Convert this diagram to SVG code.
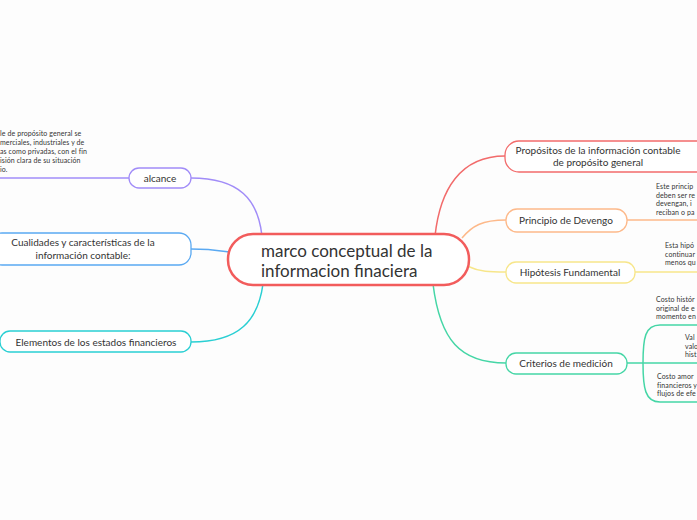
<svg xmlns="http://www.w3.org/2000/svg" width="697" height="520" viewBox="0 0 697 520">
<style>
.bg{fill:#fdfdfd}
.n{fill:#fff;stroke-width:1.3}
.c{fill:none;stroke-width:1.5}
.t{font-family:Lato,"Open Sans",sans-serif;font-size:10px;fill:#333;text-anchor:middle}
.s{font-family:Lato,"Open Sans",sans-serif;font-size:7px;fill:#333;letter-spacing:0.1px}
.main{font-family:Lato,"Open Sans",sans-serif;font-size:17px;fill:#333}
</style>
<rect class="bg" width="697" height="520"/>
<g id="connectors">
<path class="c" stroke="#A18CF8" d="M191,178 C240,178 258,200 262,236"/>
<path class="c" stroke="#A18CF8" d="M0,178 L129,178"/>
<path class="c" stroke="#5AA9F2" d="M191,249 C210,249 215,250 229,252"/>
<path class="c" stroke="#2ACFD3" d="M191,342 C240,342 258,320 263,284"/>
<path class="c" stroke="#F26B6B" d="M435,236 C440,190 460,156 505,156"/>
<path class="c" stroke="#FDB98A" d="M462,238 C472,226 482,220 506,220"/>
<path class="c" stroke="#FDB98A" d="M627,220 L697,220"/>
<path class="c" stroke="#F7E68A" d="M467,266 C480,272 490,272 506,272"/>
<path class="c" stroke="#F7E68A" d="M635,272 L697,272"/>
<path class="c" stroke="#45D6A6" d="M433,284 C440,340 460,363 506,363"/>
<path class="c" stroke="#45D6A6" d="M627,363 L697,363"/>
<path class="c" stroke="#45D6A6" d="M643,363 C643,338 645,325 660,325 L697,325"/>
<path class="c" stroke="#45D6A6" d="M643,363 C643,388 645,402 660,402 L697,402"/>
</g>
<g id="central">
<rect x="228" y="234" width="241" height="51" rx="25" fill="#fff" stroke="#F25C5C" stroke-width="2.5"/>
<text class="main" x="261" y="257">marco conceptual de la</text>
<text class="main" x="261" y="277">informacion finaciera</text>
</g>
<g id="alcance">
<rect class="n" x="129" y="168" width="62" height="20" rx="10" stroke="#A18CF8"/>
<text class="t" x="160" y="181.5">alcance</text>
<text class="s" x="0" y="136">le de propósito general se</text>
<text class="s" x="0" y="145">merciales, industriales y de</text>
<text class="s" x="0" y="154">as como privadas, con el fin</text>
<text class="s" x="0" y="163">isión clara de su situación</text>
<text class="s" x="0" y="172">io.</text>
</g>
<g id="cualidades">
<rect class="n" x="-10" y="233" width="201" height="32" rx="12" stroke="#5AA9F2"/>
<text class="t" x="83" y="246">Cualidades y características de la</text>
<text class="t" x="83" y="259">información contable:</text>
</g>
<g id="elementos">
<rect class="n" x="0" y="331" width="191" height="21" rx="10" stroke="#2ACFD3"/>
<text class="t" x="96" y="345.5">Elementos de los estados financieros</text>
</g>
<g id="propositos">
<rect class="n" x="505" y="141" width="210" height="31" rx="14" stroke="#F26B6B"/>
<text class="t" x="598" y="154">Propósitos de la información contable</text>
<text class="t" x="598" y="166">de propósito general</text>
</g>
<g id="devengo">
<rect class="n" x="506" y="209" width="121" height="23" rx="11" stroke="#FDB98A"/>
<text class="t" x="566" y="223.5">Principio de Devengo</text>
<text class="s" x="656" y="189">Este princip</text>
<text class="s" x="656" y="197.5">deben ser re</text>
<text class="s" x="656" y="206">devengan, i</text>
<text class="s" x="656" y="214.5">reciban o pa</text>
</g>
<g id="hipotesis">
<rect class="n" x="506" y="262" width="129" height="21" rx="10" stroke="#F7E68A"/>
<text class="t" x="570" y="276">Hipótesis Fundamental</text>
<text class="s" x="665" y="248">Esta hipó</text>
<text class="s" x="665" y="256.5">continuar</text>
<text class="s" x="665" y="265">menos qu</text>
</g>
<g id="criterios">
<rect class="n" x="506" y="353" width="121" height="21" rx="10" stroke="#45D6A6"/>
<text class="t" x="566" y="367">Criterios de medición</text>
</g>
<g id="costo-historico">
<text class="s" x="656" y="302">Costo histór</text>
<text class="s" x="656" y="310.5">original de e</text>
<text class="s" x="656" y="319">momento en</text>
</g>
<g id="valor">
<text class="s" x="685" y="340">Val</text>
<text class="s" x="685" y="348.5">valo</text>
<text class="s" x="685" y="357">hist</text>
</g>
<g id="costo-amortizado">
<text class="s" x="657" y="379">Costo amor</text>
<text class="s" x="657" y="387.5">financieros y</text>
<text class="s" x="657" y="396">flujos de efe</text>
</g>
</svg>
